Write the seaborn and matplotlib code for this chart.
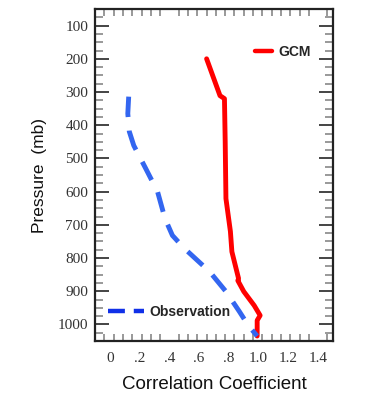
import matplotlib
matplotlib.use("Agg")
import matplotlib.pyplot as plt
from matplotlib.lines import Line2D
from matplotlib.ticker import MultipleLocator, FixedLocator
import seaborn as sns
import numpy as np
import pandas as pd

# pressure levels (mb) and correlation coefficients
gcm_pressure = [200, 311, 320, 450, 621, 720, 781, 853, 862, 868, 901, 943, 973, 988, 1035]
gcm_corr = [0.65, 0.74, 0.77, 0.775, 0.78, 0.81, 0.82, 0.86, 0.865, 0.86, 0.90, 0.97, 1.01, 0.99, 0.99]

obs_pressure = [314, 365, 419, 461, 530, 600, 681, 732, 771, 841, 901, 961, 1003, 1035]
obs_corr = [0.126, 0.12, 0.13, 0.16, 0.24, 0.32, 0.37, 0.42, 0.50, 0.67, 0.78, 0.87, 0.93, 0.99]

x_ticks = [0, 0.2, 0.4, 0.6, 0.8, 1.0, 1.2, 1.4]
x_labels = ["0", ".2", ".4", ".6", ".8", "1.0", "1.2", "1.4"]
y_ticks = [100, 200, 300, 400, 500, 600, 700, 800, 900, 1000]

gcm = pd.DataFrame({"corr": gcm_corr, "pressure": gcm_pressure})
obs = pd.DataFrame({"corr": obs_corr, "pressure": obs_pressure})

sns.set_style("white")

fig = plt.figure(figsize=(3.7, 4.0), dpi=100)
ax = fig.add_axes([0.257, 0.1475, 0.643, 0.83])

sns.lineplot(data=gcm, x="corr", y="pressure", sort=False, estimator=None,
             color="#ff0000", linewidth=3.5, ax=ax)
sns.lineplot(data=obs, x="corr", y="pressure", sort=False, estimator=None,
             color="#3366f0", linewidth=3.5, ax=ax)
ax.lines[1].set_dashes([4.2, 2.8])

ax.set_xlim(-0.1, 1.5)
ax.set_ylim(1050, 50)

ax.set_xticks(x_ticks)
ax.set_xticklabels(x_labels)
ax.xaxis.set_minor_locator(FixedLocator(np.arange(-0.0375, 1.5, 0.0625)))
ax.set_yticks(y_ticks)
ax.yaxis.set_minor_locator(MultipleLocator(25))

for lab in ax.get_xticklabels() + ax.get_yticklabels():
    lab.set_family("Liberation Serif")
    lab.set_fontsize(11)
    lab.set_color("#333333")

ax.tick_params(axis="x", which="major", length=0, pad=8)
ax.tick_params(axis="x", which="minor", direction="in", length=5, width=1.2,
               color="#888888", top=True, bottom=True)
ax.tick_params(axis="y", which="major", direction="in", length=10, width=1.4,
               color="#444444", left=True, right=True, pad=5)
ax.tick_params(axis="y", which="minor", direction="in", length=6, width=1.2,
               color="#888888", left=True, right=True)

for s in ax.spines.values():
    s.set_color("#222222")
    s.set_linewidth(1.6)

ax.set_xlabel("Correlation Coefficient", fontsize=13.5, family="Liberation Sans",
              color="#111111", labelpad=8)
ax.set_ylabel("Pressure  (mb)", fontsize=12.5, family="Liberation Sans",
              color="#111111", labelpad=8)

leg1 = ax.legend(handles=[Line2D([], [], color="#ff0000", linewidth=3.2)], labels=["GCM"],
                 loc="upper right", bbox_to_anchor=(0.96, 0.93), frameon=False,
                 handlelength=1.2, handletextpad=0.5,
                 prop={"family": "Liberation Sans", "weight": "bold", "size": 10})
ax.add_artist(leg1)
ax.legend(handles=[Line2D([], [], color="#1030e8", linewidth=3.2, dashes=[3.8, 2.0])],
          labels=["Observation"], loc="lower left", bbox_to_anchor=(0.0, 0.03),
          frameon=False, handlelength=2.6, handletextpad=0.4,
          prop={"family": "Liberation Sans", "weight": "bold", "size": 10})

fig.savefig("out.png", dpi=100)
